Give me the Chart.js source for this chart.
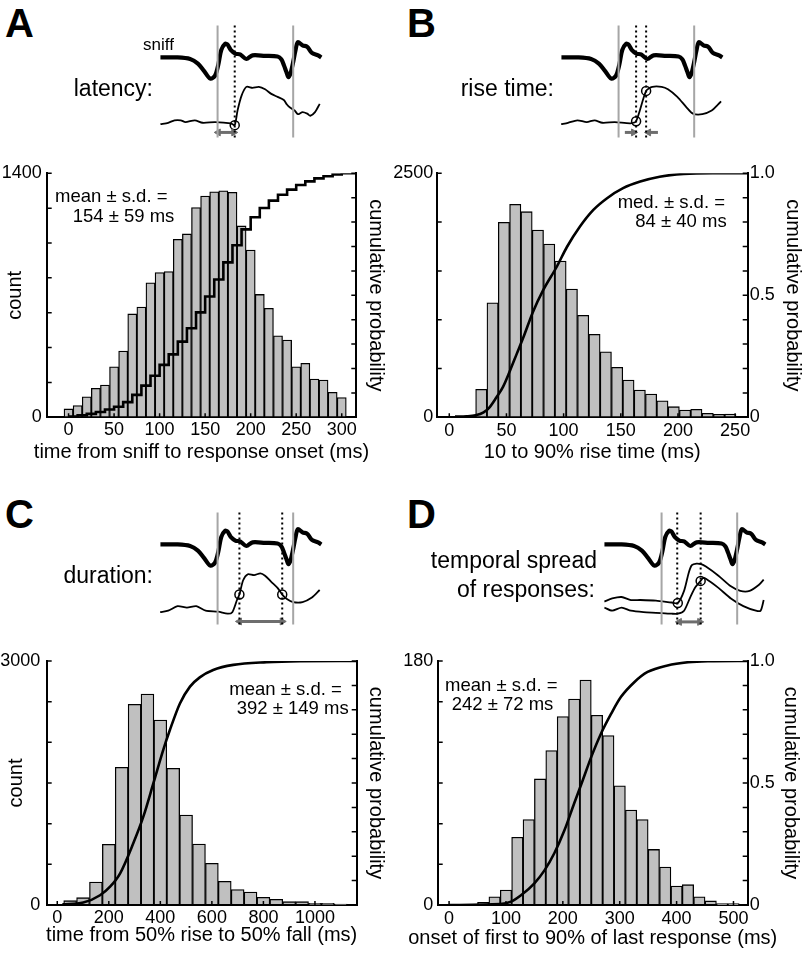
<!DOCTYPE html>
<html><head><meta charset="utf-8">
<script src="https://cdn.jsdelivr.net/npm/chart.js@4.4.1/dist/chart.umd.min.js"></script>
<style>
html,body{margin:0;padding:0;background:#fff;}
#wrap{position:relative;width:806px;height:955px;overflow:hidden;font-family:"Liberation Sans",Arial,sans-serif;color:#000;}
canvas{position:absolute;}
.t{position:absolute;white-space:nowrap;line-height:1;}
</style></head><body><div id="wrap">
<canvas id="sA" width="190" height="135" style="left:146px;top:15px"></canvas>
<canvas id="sB" width="190" height="135" style="left:547px;top:15px"></canvas>
<canvas id="sC" width="190" height="135" style="left:146px;top:502px"></canvas>
<canvas id="sD" width="190" height="135" style="left:590px;top:502px"></canvas>
<canvas id="hA" width="400" height="320" style="left:0px;top:150px"></canvas>
<canvas id="hB" width="416" height="320" style="left:390px;top:150px"></canvas>
<canvas id="hC" width="400" height="315" style="left:0px;top:640px"></canvas>
<canvas id="hD" width="416" height="315" style="left:390px;top:640px"></canvas>
</div>
<script>
// ---------------- DATA ----------------
// A: latency histogram (ms bins, counts) and cumulative probability (step curve)
const latencyBins = [0,10,20,30,40,50,60,70,80,90,100,110,120,130,140,150,160,170,180,190,200,210,220,230,240,250,260,270,280,290,300];
const latencyCounts = [48,67,118,166,185,290,380,593,633,772,830,836,1021,1052,1203,1270,1294,1300,1291,1098,960,705,625,468,443,290,310,220,214,143,113];
const latencyCumX = [0,10,20,30,40,50,60,70,80,90,100,110,120,130,140,150,160,170,180,190,200,210,220,230,240,250,260,270,280,290,300,316];
const latencyCumP = [0.003,0.008,0.014,0.022,0.032,0.043,0.062,0.092,0.13,0.17,0.215,0.258,0.31,0.365,0.43,0.495,0.565,0.635,0.705,0.77,0.82,0.858,0.888,0.912,0.933,0.952,0.967,0.979,0.988,0.995,1.0,1.0];
const latencyXTicks = [0,50,100,150,200,250,300];
const latencyYTicks = [0,200,400,600,800,1000,1200,1400];
const latencyYLabels = ['0','','','','','','','1400'];

// B: rise time
const riseBins = [28,37.9,47.8,57.7,67.6,77.5,87.4,97.3,107.2,117.1,127,136.9,146.8,156.7,166.6,176.5,186.4,196.3,206.2,216.1,226,235.9,245.8];
const riseCounts = [287,1174,1998,2182,2107,1919,1776,1601,1314,1045,850,672,512,382,280,239,170,109,75,82,41,31,34];
const riseCumX = [5,15,23,30,35,41,47,53,59,65,73,82,94,103,114,126,138,152,167,184,205,230,261];
const riseCumP = [0.003,0.004,0.008,0.02,0.04,0.08,0.125,0.19,0.26,0.33,0.43,0.52,0.617,0.699,0.78,0.85,0.898,0.939,0.966,0.986,0.997,1.0,1.0];
const riseXTicks = [0,50,100,150,200,250];
const riseYTicks = [0,500,1000,1500,2000,2500];
const riseYLabels = ['0','','','','','2500'];

// C: duration
const durBins = [50,100,150,200,250,300,350,400,450,500,550,600,650,700,750,800,850,900,950,1000,1050,1100];
const durCounts = [53,90,283,746,1693,2467,2594,2275,1680,1107,750,512,291,189,160,94,70,41,41,20,20,12];
const durCumX = [20,101,166,205,244,295,334,373,411,437,476,515,553,605,683,812,942,1161];
const durCumP = [0.003,0.01,0.04,0.075,0.13,0.253,0.362,0.499,0.635,0.717,0.826,0.895,0.933,0.963,0.984,0.995,0.999,1.0];
const durXTicks = [0,200,400,600,800,1000];
const durYTicks = [0,500,1000,1500,2000,2500,3000];
const durYLabels = ['0','','','','','','3000'];

// D: temporal spread
const spreadBins = [60,80,100,120,140,160,180,200,220,240,260,280,300,320,340,360,380,400,420,440,460,480,500];
const spreadCounts = [2,6,11,50,63,93,114,139,152,166,140,125,88,70,63,41,28,14,15,6,3,1,1];
const spreadCumX = [0,90,109,127,150,168,185,203,220,235,250,267,285,302,326,349,384,420,455,525];
const spreadCumP = [0,0.004,0.014,0.041,0.089,0.143,0.212,0.307,0.417,0.511,0.607,0.702,0.784,0.852,0.914,0.955,0.982,0.995,0.999,1.0];
const spreadXTicks = [0,100,200,300,400,500];
const spreadYTicks = [0,30,60,90,120,150,180];
const spreadYLabels = ['0','','','','','','180'];

// cumulative-probability axis
const probTicks = [0,0.1,0.2,0.3,0.4,0.5,0.6,0.7,0.8,0.9,1.0];
const probLabels = ['0','','','','','0.5','','','','','1.0'];
const probNoLabels = ['','','','','','','','','','',''];

// Schematic traces (time units, amplitude units; amplitude axis points down)
const sniffT = [-61,-42.7,-29.3,-21,-14.3,-7.7,-2.7,0.7,4,8,10.7,14,19,24,30.7,37.3,50.7,64,68,70.7,73.5,75.7,78,80.7,83,85.7,90.7,95.7,100.7,107.3,110.7];
const sniffV = [35,35,36.7,41.7,50,58.3,55,43.3,26.7,20,21,26.7,30.7,31.7,36.7,32.7,33.3,34,37,43.3,51,56.7,52,40,28,18.3,21.7,23.3,30,32.7,35];
const sniffBounds = [0,80.7];

const latTraceT = [-61,-52.7,-46,-39.3,-34.3,-24.3,-16,-2.7,14,18.3,21.3,25.7,30.7,37.3,44,50.7,57.3,64,70.7,74,77.3,82.3,85.7,90.7,95.7,99,104,109];
const latTraceV = [108.3,106.7,104,104,106,104,106.7,106,107.3,109.3,93.3,76.7,67.3,68.3,67.3,70,75,78.3,81.7,86.7,90,93.3,97.3,95,96.7,99,95,86];
const latMarkT = [18.3], latMarkV = [109.3];
const latDotT = [18.3];

const riseTraceT = [-61.3,-54,-44,-34,-25.6,-17.3,-4,12.7,18.7,29.4,36,46,52.7,62.7,72.7,79.4,89.4,99.4,106,109.4];
const riseTraceV = [108.3,106.7,104,106,104,106.7,106,107.3,105,71.7,67.3,67.3,70,78.3,90,96.7,97.3,93.3,86.7,83.3];
const riseMarkT = [18.7,29.4], riseMarkV = [105,71.7];
const riseDotT = [18.7,29.4];

const durTraceT = [-61.3,-52.7,-42.7,-32.7,-22.7,-12.7,0.7,10.7,15.7,20.7,23.3,27.3,32.3,39,45.7,50.7,57.3,64,69,74,80.7,90.7,100.7,109];
const durTraceV = [109.3,107.7,102.7,104.3,102.7,107.7,108.7,111,109.3,96,90,74.3,67.7,68.7,66.7,69.3,76,82.7,90,95,98.3,98.3,93.3,85];
const durMarkT = [23.3,69], durMarkV = [90,90];
const durDotT = [23.3,69];

const spreadTrace1T = [-61,-52.7,-42.7,-32.7,-22.7,-6,10.7,17.3,24,29,32.3,37.3,42.3,47.3,60.7,74,84,94,104,109];
const spreadTrace1V = [97.7,94.3,92.7,96,96,96.7,98.7,99.3,86,66,57.7,56,56.7,59.3,69.3,81,86,86,79.3,73.7];
const spreadTrace2T = [-61,-52.7,-42.7,-32.7,-19.3,-6,10.7,17.3,24,30.7,36,41.7,44,47.3,60.7,74,87.3,100.7,105.7,109];
const spreadTrace2V = [104.3,107.7,104.3,107.7,109.3,110,111,111,107.7,92.7,82,75,72,72.7,82.7,94.3,102.7,107.7,107.7,96];
const spreadMarkT = [17.3,41.7], spreadMarkV = [99.3,75];
const spreadDotT = [16.7,41.7];

// interval arrows: [start, end, headAtStart, headAtEnd], level
const latArrows = [[0.7,17.3,true,true]], latArrowV = 117.3;
const riseArrows = [[6.7,16,false,true],[42,32,false,true]], riseArrowV = 117.3;
const durArrows = [[23.3,69,true,true]], durArrowV = 119.5;
const spreadArrows = [[19,40.7,true,true]], spreadArrowV = 120;

// ---------------- CHARTS ----------------
Chart.defaults.font.family = '"Liberation Sans", Arial, sans-serif';
Chart.defaults.color = '#000';

const pts = (xs, ys) => xs.map((x, i) => ({x: x, y: ys[i]}));

function makeSchematic(id, traces, markT, markV, dotT, arrows, arrowV) {
  const ds = [];
  sniffBounds.forEach(t => ds.push({data: pts([t, t], [0, 123]), borderColor: '#a6a6a6', borderWidth: 2}));
  dotT.forEach(t => ds.push({data: pts([t, t], [0, 125]), borderColor: '#000', borderWidth: 2, borderDash: [2, 3]}));
  ds.push({data: pts(sniffT, sniffV), borderColor: '#000', borderWidth: 4.2, tension: 0.3});
  traces.forEach(tr => ds.push({data: pts(tr[0], tr[1]), borderColor: '#000', borderWidth: 1.8, tension: 0.25}));
  arrows.forEach(a => {
    const rs = [a[2] ? 4 : 0, a[3] ? 4 : 0];
    const rot = [a[1] > a[0] ? 270 : 90, a[1] > a[0] ? 90 : 270];
    ds.push({data: pts([a[0], a[1]], [arrowV, arrowV]), borderColor: '#6e6e6e', borderWidth: 3,
      pointStyle: 'triangle', pointRadius: rs, pointRotation: rot, pointBackgroundColor: '#6e6e6e', pointBorderColor: '#6e6e6e', pointBorderWidth: 1});
  });
  ds.push({data: pts(markT, markV), showLine: false, pointRadius: 4.5, pointBorderWidth: 1.5, pointBorderColor: '#000', pointBackgroundColor: 'rgba(255,255,255,0)'});
  ds.forEach(d => { if (d.showLine === undefined) d.showLine = true; if (d.pointRadius === undefined) d.pointRadius = 0; d.fill = false; });
  new Chart(document.getElementById(id), {
    type: 'scatter',
    data: {datasets: ds},
    options: {
      responsive: false, animation: false, devicePixelRatio: 1,
      layout: {padding: 0},
      plugins: {legend: {display: false}, tooltip: {enabled: false}},
      scales: {
        x: {type: 'linear', min: -70, max: 120, display: false},
        y: {type: 'linear', min: -5, max: 130, reverse: true, display: false}
      }
    }
  });
}

makeSchematic('sA', [[latTraceT, latTraceV]], latMarkT, latMarkV, latDotT, latArrows, latArrowV);
makeSchematic('sB', [[riseTraceT, riseTraceV]], riseMarkT, riseMarkV, riseDotT, riseArrows, riseArrowV);
makeSchematic('sC', [[durTraceT, durTraceV]], durMarkT, durMarkV, durDotT, durArrows, durArrowV);
makeSchematic('sD', [[spreadTrace1T, spreadTrace1V], [spreadTrace2T, spreadTrace2V]], spreadMarkT, spreadMarkV, spreadDotT, spreadArrows, spreadArrowV);

const inwardTicks = {
  id: 'inwardTicks',
  afterDraw(chart) {
    const {ctx, chartArea: a, scales} = chart;
    ctx.save();
    ctx.strokeStyle = '#000';
    ctx.lineWidth = 1.5;
    ctx.beginPath();
    scales.y.ticks.forEach(t => { const p = scales.y.getPixelForValue(t.value); ctx.moveTo(a.left, p); ctx.lineTo(a.left + 5, p); });
    scales.y1.ticks.forEach(t => { const p = scales.y1.getPixelForValue(t.value); ctx.moveTo(a.right, p); ctx.lineTo(a.right - 5, p); });
    scales.x.ticks.forEach(t => { const p = scales.x.getPixelForValue(t.value); ctx.moveTo(p, a.bottom); ctx.lineTo(p, a.bottom - 4); });
    ctx.stroke();
    ctx.restore();
  }
};

function makeHist(id, c) {
  new Chart(document.getElementById(id), {
    type: 'bar',
    data: {
      datasets: [
        {type: 'line', data: pts(c.cumX, c.cumP), yAxisID: 'y1', xAxisID: 'x', borderColor: '#000', borderWidth: 2.6,
          pointRadius: 0, fill: false, stepped: c.stepped ? 'before' : false, cubicInterpolationMode: 'monotone', order: 0},
        {type: 'bar', data: pts(c.bins, c.counts), yAxisID: 'y', xAxisID: 'x', backgroundColor: '#c0c0c0', borderColor: '#000',
          borderWidth: 1.3, borderSkipped: false, barPercentage: 1, categoryPercentage: 1, order: 1}
      ]
    },
    options: {
      responsive: false, animation: false, devicePixelRatio: 1,
      layout: {padding: {top: c.top, left: 0, right: 0, bottom: 0}},
      plugins: {legend: {display: false}, tooltip: {enabled: false}},
      scales: {
        x: {type: 'linear', position: 'bottom', min: c.xMin, max: c.xMax, offset: false, z: 1,
          grid: {display: false, drawTicks: false, offset: false}, border: {display: true, color: '#000', width: 2},
          ticks: {font: {size: 18}, color: '#000', padding: c.xPad, maxRotation: 0, autoSkip: false, callback: v => String(v)},
          title: {display: false},
          afterBuildTicks: s => { s.ticks = c.xTicks.map(v => ({value: v})); },
          afterFit: s => { s.height = c.xH; }},
        y: {type: 'linear', position: 'left', min: 0, max: c.yTicks[c.yTicks.length - 1], z: 1,
          grid: {display: false, drawTicks: false}, border: {display: true, color: '#000', width: 2},
          ticks: {font: {size: 18}, color: '#000', padding: c.yPad, autoSkip: false, callback: (v, i) => c.yLabels[i]},
          title: {display: c.yTitle, text: 'count', font: {size: 20}, color: '#000', padding: {top: c.yTitlePad, bottom: 0}},
          afterBuildTicks: s => { s.ticks = c.yTicks.map(v => ({value: v})); },
          afterFit: s => { s.width = c.yW; }},
        y1: {type: 'linear', position: 'right', min: 0, max: 1, z: 1,
          grid: {display: false, drawTicks: false}, border: {display: true, color: '#000', width: 2},
          ticks: {font: {size: 18}, color: '#000', padding: 2, autoSkip: false, callback: (v, i) => c.pLabels[i]},
          title: {display: true, text: 'cumulative probability', font: {size: 20}, color: '#000', padding: {top: c.pTitlePad, bottom: 0}},
          afterBuildTicks: s => { s.ticks = probTicks.map(v => ({value: v})); },
          afterFit: s => { s.width = c.pW; }}
      }
    },
    plugins: [inwardTicks]
  });
}

makeHist('hA', {bins: latencyBins, counts: latencyCounts, cumX: latencyCumX, cumP: latencyCumP, stepped: true,
  xMin: -24, xMax: 316, xTicks: latencyXTicks, yTicks: latencyYTicks, yLabels: latencyYLabels, pLabels: probNoLabels, yTitle: true,
  top: 23.3, xH: 52.7, yW: 46.7, pW: 43.7, xPad: 2, yPad: 5, yTitlePad: 3, pTitlePad: 12});
makeHist('hB', {bins: riseBins, counts: riseCounts, cumX: riseCumX, cumP: riseCumP, stepped: false,
  xMin: -11, xMax: 261, xTicks: riseXTicks, yTicks: riseYTicks, yLabels: riseYLabels, pLabels: probLabels, yTitle: false,
  top: 23.3, xH: 52.7, yW: 46.7, pW: 58.3, xPad: 2.5, yPad: 3.5, yTitlePad: 0, pTitlePad: 1.5});
makeHist('hC', {bins: durBins, counts: durCounts, cumX: durCumX, cumP: durCumP, stepped: false,
  xMin: -41, xMax: 1162, xTicks: durXTicks, yTicks: durYTicks, yLabels: durYLabels, pLabels: probNoLabels, yTitle: true,
  top: 21, xH: 50, yW: 46.7, pW: 43.3, xPad: 2, yPad: 6.5, yTitlePad: 4, pTitlePad: 12.5});
makeHist('hD', {bins: spreadBins, counts: spreadCounts, cumX: spreadCumX, cumP: spreadCumP, stepped: false,
  xMin: -20, xMax: 525, xTicks: spreadXTicks, yTicks: spreadYTicks, yLabels: spreadYLabels, pLabels: probLabels, yTitle: false,
  top: 21, xH: 50, yW: 47.7, pW: 58.3, xPad: 3, yPad: 4.4, yTitlePad: 0, pTitlePad: 3});

// ---------------- TEXT ----------------
const wrap = document.getElementById('wrap');
function label(s, x, baseline, size, align, bold) {
  const d = document.createElement('div');
  d.className = 't';
  d.textContent = s;
  d.style.fontSize = size + 'px';
  if (bold) d.style.fontWeight = 'bold';
  d.style.left = x + 'px';
  d.style.top = (baseline - 0.8465 * size) + 'px';
  if (align === 'right') d.style.transform = 'translateX(-100%)';
  if (align === 'center') d.style.transform = 'translateX(-50%)';
  wrap.appendChild(d);
}
label('A', 5, 37, 40, 'left', true);
label('B', 407, 37, 40, 'left', true);
label('C', 5, 528, 40, 'left', true);
label('D', 407, 528, 40, 'left', true);
label('sniff', 143, 50, 17, 'left');
label('latency:', 153, 96, 23, 'right');
label('rise time:', 554, 96.7, 23, 'right');
label('duration:', 153, 583, 23, 'right');
label('temporal spread', 597, 568, 23, 'right');
label('of responses:', 595, 597, 23, 'right');
label('mean ± s.d. =', 55, 203, 18.5, 'left');
label('154 ± 59 ms', 72.7, 223, 18.5, 'left');
label('med. ± s.d. =', 725, 209, 18.5, 'right');
label('84 ± 40 ms', 726.7, 228, 18.5, 'right');
label('mean ± s.d. =', 229.3, 696, 18.5, 'left');
label('392 ± 149 ms', 236.7, 715, 18.5, 'left');
label('mean ± s.d. =', 445, 692, 18.5, 'left');
label('242 ± 72 ms', 451.7, 711, 18.5, 'left');
// x-axis titles
label('time from sniff to response onset (ms)', 201.5, 457.6, 20, 'center');
label('10 to 90% rise time (ms)', 592.2, 457.6, 20, 'center');
label('time from 50% rise to 50% fall (ms)', 201.7, 941, 20, 'center');
label('onset of first to 90% of last response (ms)', 592.7, 944, 20, 'center');
</script></body></html>
